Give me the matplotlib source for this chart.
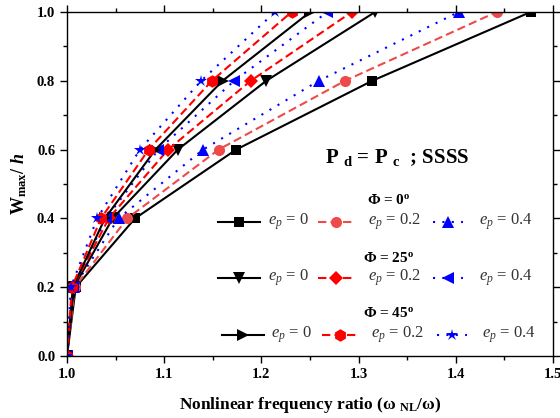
import matplotlib
matplotlib.use('Agg')
import matplotlib.pyplot as plt
from matplotlib.lines import Line2D
from matplotlib.ticker import MultipleLocator

plt.rcParams['font.family'] = ['Liberation Serif', 'DejaVu Serif']
plt.rcParams['mathtext.fontset'] = 'custom'
plt.rcParams['mathtext.rm'] = 'Liberation Serif'
plt.rcParams['mathtext.it'] = 'Liberation Serif:italic'
plt.rcParams['mathtext.bf'] = 'Liberation Serif:bold'
plt.rcParams['mathtext.bfit'] = 'Liberation Serif:italic:bold'

# deflection levels
w_ratio = [0.0, 0.2, 0.4, 0.6, 0.8, 1.0]

# nonlinear frequency ratio, Phi = 0 deg
phi0_ep0 = [1.000, 1.009, 1.070, 1.174, 1.314, 1.477]
phi0_ep02 = [1.000, 1.008, 1.062, 1.156, 1.286, 1.442]
phi0_ep04 = [1.000, 1.007, 1.053, 1.140, 1.259, 1.403]
# Phi = 25 deg
phi25_ep0 = [1.000, 1.007, 1.047, 1.114, 1.205, 1.317]
phi25_ep02 = [1.000, 1.006, 1.043, 1.104, 1.189, 1.293]
phi25_ep04 = [1.000, 1.006, 1.040, 1.094, 1.172, 1.268]
# Phi = 45 deg
phi45_ep0 = [1.000, 1.006, 1.039, 1.091, 1.160, 1.250]
phi45_ep02 = [1.000, 1.005, 1.035, 1.084, 1.149, 1.231]
phi45_ep04 = [1.000, 1.004, 1.031, 1.075, 1.138, 1.214]

ep_labels = ['0', '0.2', '0.4']
phi_labels = ['0', '25', '45']

dash_red = (0, (4, 2))
dot_blue = (0, (1, 3.5))
styles = {
    'k': dict(color='black', linestyle='-'),
    'r': dict(color='#ff0000', linestyle=dash_red),
    'lr': dict(color='#ef4a4a', linestyle=dash_red),
    'b': dict(color='#0000ff', linestyle=dot_blue),
}

series = [
    (phi0_ep0, 'k', 's', 7),
    (phi0_ep02, 'lr', 'o', 8),
    (phi0_ep04, 'b', '^', 8),
    (phi25_ep0, 'k', 'v', 8),
    (phi25_ep02, 'r', 'D', 7),
    (phi25_ep04, 'b', '<', 8),
    (phi45_ep0, 'k', '>', 8),
    (phi45_ep02, 'r', 'h', 9),
    (phi45_ep04, 'b', '*', 9),
]

fig = plt.figure(figsize=(5.6, 4.18), dpi=100)
ax = fig.add_axes([67 / 560, 1 - 356 / 418, 486 / 560, 344 / 418])

for xs, st, mk, ms in series:
    ax.plot(xs, w_ratio, marker=mk, markersize=ms, linewidth=1.5,
            markeredgewidth=0, **styles[st])

ax.set_xlim(1.0, 1.5)
ax.set_ylim(0.0, 1.0)
ax.xaxis.set_major_locator(MultipleLocator(0.1))
ax.xaxis.set_minor_locator(MultipleLocator(0.05))
ax.yaxis.set_major_locator(MultipleLocator(0.2))
ax.yaxis.set_minor_locator(MultipleLocator(0.1))
ax.tick_params(which='both', direction='out', top=True, right=True,
               labeltop=False, labelright=False, width=1)
ax.tick_params(which='major', length=5, labelsize=10.5)
ax.tick_params(which='minor', length=3)
for lab in ax.get_xticklabels() + ax.get_yticklabels():
    lab.set_fontweight('bold')
for sp in ax.spines.values():
    sp.set_linewidth(1.0)

ax.set_xlabel(r'Nonlinear frequency ratio (ω $_{\mathbf{NL}}$/ω)',
              fontsize=12.5, fontweight='bold', labelpad=10)
ax.set_ylabel(r'$\mathbf{W}_{\mathbf{max}}\mathbf{/}\ \mathbfit{h}$',
              fontsize=13, labelpad=6)


def ax_pt(px, py):
    return (px - 67) / 486, (356 - py) / 344


tx, ty = ax_pt(397, 157)
ax.text(tx, ty, r'P $_{\mathbf{d}}$ = P $_{\mathbf{c}}$  ; SSSS',
        transform=ax.transAxes, ha='center', va='center',
        fontsize=15, fontweight='bold')

title_y = [200, 258, 313]
row_y = [222, 278, 335]
handle_x = [(218, 260), (318, 353), (433, 463)]
text_x = [268, 368, 479]
group_styles = [series[0:3], series[3:6], series[6:9]]
for g in range(3):
    tx, ty = ax_pt(389, title_y[g])
    ax.text(tx, ty, r'Φ = %s$^{\mathbf{o}}$' % phi_labels[g],
            transform=ax.transAxes, ha='center', va='center',
            fontsize=11, fontweight='bold')
    for k in range(3):
        _, st, mk, ms = group_styles[g][k]
        x0, yy = ax_pt(handle_x[k][0] + (4 if g == 2 else 0), row_y[g])
        x1, _ = ax_pt(handle_x[k][1] + (4 if g == 2 else 0), row_y[g])
        ax.add_line(Line2D([x0, x1], [yy, yy], transform=ax.transAxes,
                           linewidth=1.5, clip_on=False, **styles[st]))
        ax.add_line(Line2D([(x0 + x1) / 2], [yy], transform=ax.transAxes,
                           marker=mk, markersize=ms, markeredgewidth=0,
                           color=styles[st]['color'], linestyle='none',
                           clip_on=False))
        xt, _ = ax_pt(text_x[k] + (3 if g == 2 else 0), row_y[g])
        ax.text(xt, yy, r'$e_p$ = ' + ep_labels[k], transform=ax.transAxes,
                ha='left', va='center', fontsize=12, color='#333333')

fig.savefig('out.png', dpi=100, facecolor='white')
